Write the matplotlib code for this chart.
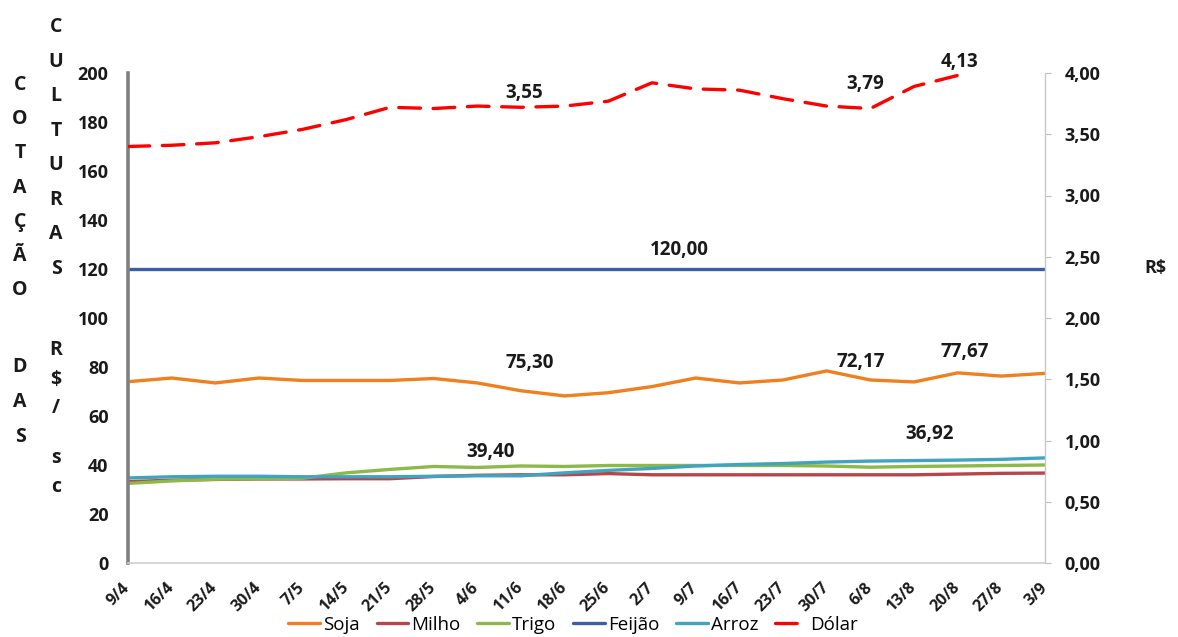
import matplotlib
matplotlib.use("Agg")
import matplotlib.pyplot as plt
import matplotlib.transforms as mtransforms
from matplotlib.ticker import FuncFormatter, MultipleLocator

plt.rcParams['font.family'] = ['Open Sans', 'DejaVu Sans']

# ---------------- data ----------------
datas = ["9/4", "16/4", "23/4", "30/4", "7/5", "14/5", "21/5", "28/5", "4/6", "11/6",
         "18/6", "25/6", "2/7", "9/7", "16/7", "23/7", "30/7", "6/8", "13/8", "20/8",
         "27/8", "3/9"]
soja = [74.0, 75.5, 73.5, 75.5, 74.5, 74.5, 74.5, 75.3, 73.5, 70.3, 68.2, 69.5,
        72.0, 75.5, 73.5, 74.7, 78.4, 74.7, 73.9, 77.6, 76.3, 77.4]
milho = [33.2, 33.8, 34.1, 34.3, 34.3, 34.4, 34.4, 35.3, 35.8, 36.0, 36.0, 36.5,
         36.0, 36.0, 36.0, 36.0, 36.0, 36.0, 36.0, 36.3, 36.6, 36.7]
trigo = [32.5, 33.5, 34.2, 34.4, 34.6, 36.8, 38.2, 39.4, 39.0, 39.6, 39.4, 39.8,
         39.8, 39.8, 39.8, 39.8, 39.6, 39.1, 39.4, 39.6, 39.8, 40.0]
feijao = [120.0] * 22
arroz = [34.7, 35.2, 35.4, 35.4, 35.2, 35.2, 35.2, 35.4, 35.6, 35.6, 36.8, 37.8,
         38.6, 39.6, 40.2, 40.6, 41.2, 41.6, 41.8, 42.0, 42.3, 42.9]
dolar = [3.40, 3.41, 3.43, 3.48, 3.54, 3.62, 3.72, 3.71, 3.73, 3.72, 3.73, 3.77,
         3.92, 3.87, 3.86, 3.79, 3.73, 3.71, 3.89, 3.98]

# data labels: (text, series, index, dx px, dy px)
rotulos = [("3,55", "dolar", 9, 3, 4), ("3,79", "dolar", 17, -5, 15),
           ("4,13", "dolar", 19, 2, 3), ("120,00", "feijao", 13, -16, 9),
           ("75,30", "soja", 9, 9, 18), ("72,17", "soja", 17, -10, 8),
           ("77,67", "soja", 19, 7, 11), ("39,40", "trigo", 8, 13, 5),
           ("36,92", "arroz", 18, 16, 17)]

# ---------------- figure ----------------
W, H = 1178, 637
fig = plt.figure(figsize=(W / 100, H / 100), dpi=100)
ax = fig.add_axes([128 / W, 1 - 563 / H, (1045 - 128) / W, (563 - 73) / H])
ax2 = ax.twinx()

x = list(range(len(datas)))
cores = {"soja": "#F07F1E", "milho": "#B8454A", "trigo": "#8DB84A",
         "feijao": "#3C5EA6", "arroz": "#40A4C0", "dolar": "#FF0000"}
series = {"soja": soja, "milho": milho, "trigo": trigo, "feijao": feijao,
          "arroz": arroz, "dolar": dolar}
nomes = {"soja": "Soja", "milho": "Milho", "trigo": "Trigo", "feijao": "Feijão",
         "arroz": "Arroz", "dolar": "Dólar"}

handles = []
for k in ["soja", "milho", "trigo", "feijao", "arroz"]:
    h, = ax.plot(x, series[k], color=cores[k], lw=2.4, label=nomes[k],
                 solid_capstyle='round', solid_joinstyle='round')
    handles.append(h)
hd, = ax2.plot(x[:len(dolar)], dolar, color=cores["dolar"], lw=2.4,
               dashes=(6.5, 3.8), label="Dólar", dash_capstyle='round')
handles.append(hd)

ax.set_xlim(0, len(datas) - 1)
ax.set_ylim(0, 200)
ax2.set_ylim(0, 4)

ax.yaxis.set_major_locator(MultipleLocator(20))
ax2.yaxis.set_major_locator(MultipleLocator(0.5))
ax2.yaxis.set_major_formatter(FuncFormatter(lambda v, p: f"{v:.2f}".replace(".", ",")))

ax.set_xticks(x)
ax.set_xticklabels(datas, rotation=45, ha='right', rotation_mode='anchor',
                   fontsize=11.5, fontweight='bold', color='#1A1A1A')
ax.tick_params(axis='x', length=0, pad=12)
shift = mtransforms.ScaledTranslation(-6 / 100, 0, fig.dpi_scale_trans)
for t in ax.get_xticklabels():
    t.set_transform(t.get_transform() + shift)
ax.tick_params(axis='y', length=0, pad=14, labelsize=13, labelcolor='#1A1A1A')
for t in ax.get_yticklabels():
    t.set_fontweight('bold')
ax2.tick_params(axis='y', length=4, width=0.8, color='#BFBFBF', pad=10, labelsize=13,
                labelcolor='#1A1A1A')
for t in ax2.get_yticklabels():
    t.set_fontweight('bold')

for a in (ax, ax2):
    a.spines['top'].set_visible(False)
ax.spines['left'].set_color('#808080')
ax.spines['left'].set_linewidth(2.6)
ax.spines['bottom'].set_color('#D0D0D0')
ax.spines['bottom'].set_linewidth(1.2)
ax.spines['right'].set_visible(False)
ax2.spines['left'].set_visible(False)
ax2.spines['bottom'].set_visible(False)
ax2.spines['right'].set_color('#C8C8C8')
ax2.spines['right'].set_linewidth(1.0)

# data labels
for txt, k, i, dx, dy in rotulos:
    alvo = ax2 if k == "dolar" else ax
    alvo.annotate(txt, (i, series[k][i]), xytext=(dx * 0.72, dy * 0.72),
                  textcoords='offset points', ha='center', va='bottom',
                  fontsize=13.5, fontweight='bold', color='#1A1A1A')

# vertical axis titles (one letter per row)
col1 = [("C", 85), ("O", 119), ("T", 153), ("A", 188), ("Ç", 222), ("Ã", 256),
        ("O", 290), ("D", 367), ("A", 402), ("S", 437)]
col2 = [("C", 27), ("U", 62), ("L", 96), ("T", 131), ("U", 165), ("R", 200),
        ("A", 234), ("S", 269), ("R", 350), ("$", 380), ("/", 408), ("s", 458),
        ("c", 487)]
for ch, py in col1:
    fig.text(20 / W, 1 - py / H, ch, ha='center', va='center', fontsize=14,
             fontweight='bold', color='#1A1A1A')
for ch, py in col2:
    fig.text(56 / W, 1 - py / H, ch, ha='center', va='center', fontsize=14,
             fontweight='bold', color='#1A1A1A')
fig.text(1155 / W, 1 - 268 / H, "R$", ha='center', va='center', fontsize=13,
         fontweight='bold', color='#1A1A1A')

fig.legend(handles=handles, loc='center', bbox_to_anchor=(573 / W, 1 - 625 / H),
           ncol=6, frameon=False, fontsize=13.5, handlelength=1.7,
           handletextpad=0.15, columnspacing=0.9, borderpad=0)

fig.savefig("out.png", dpi=100)
